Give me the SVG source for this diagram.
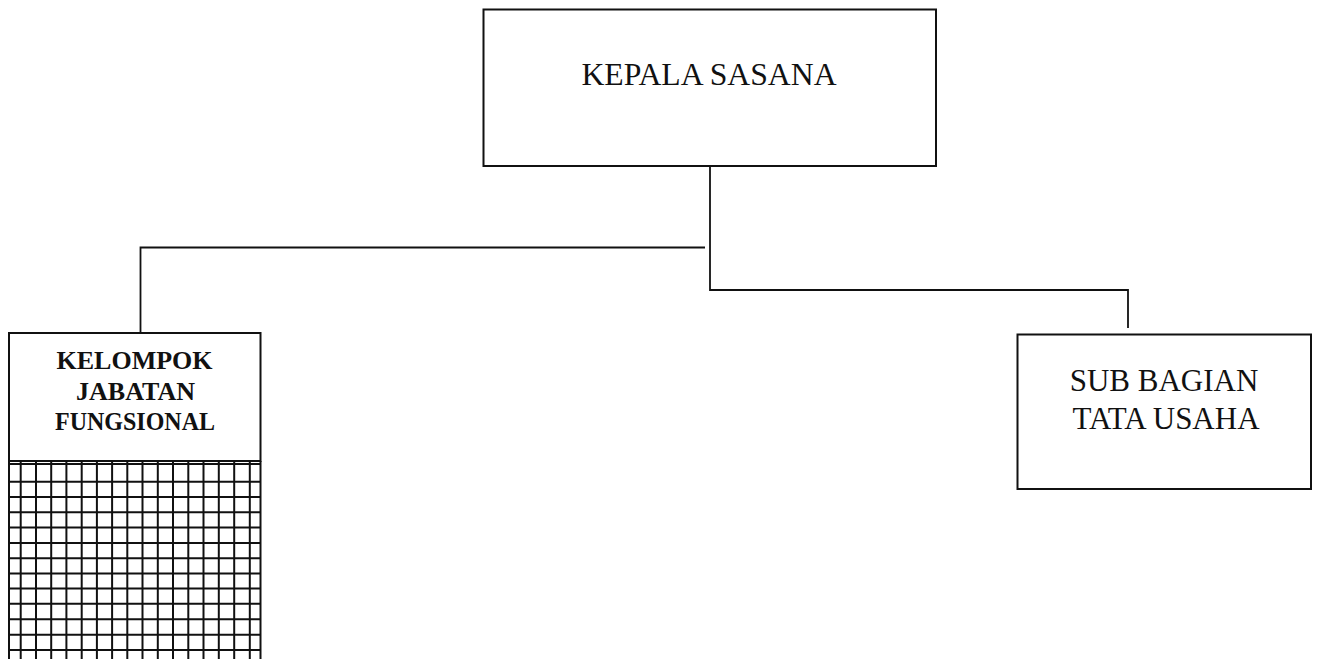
<svg xmlns="http://www.w3.org/2000/svg" width="1318" height="659" viewBox="0 0 1318 659">
<style>
.box{fill:none;stroke:#111;stroke-width:2}
.ln{fill:none;stroke:#111;stroke-width:1.8}
.t{font-family:"Liberation Serif","Times New Roman",serif;fill:#111;text-anchor:middle}
.b{font-weight:bold}
.g{stroke:#111;stroke-width:2}
</style>
<rect width="1318" height="659" fill="#fff"/>
<g id="connectors">
<polyline class="ln" points="710,166 710,290 1128,290 1128,328"/>
<polyline class="ln" points="705,247.5 140.5,247.5 140.5,333"/>
</g>
<g id="kepala">
<rect class="box" x="483.5" y="9.5" width="452.5" height="156.5"/>
<text class="t" x="709" y="85" font-size="31.7">KEPALA SASANA</text>
</g>
<g id="subbagian">
<rect class="box" x="1017.5" y="334.5" width="293.5" height="154.5"/>
<text class="t" x="1164" y="391" font-size="31">SUB BAGIAN</text>
<text class="t" x="1166" y="428.5" font-size="31">TATA USAHA</text>
</g>
<g id="kelompok">
<rect class="box" x="9" y="333" width="251.5" height="128"/>
<text class="t b" x="134.5" y="368.5" font-size="25" textLength="156" lengthAdjust="spacingAndGlyphs">KELOMPOK</text>
<text class="t b" x="135.5" y="399.5" font-size="25" textLength="119" lengthAdjust="spacingAndGlyphs">JABATAN</text>
<text class="t b" x="135" y="429.5" font-size="25" textLength="160" lengthAdjust="spacingAndGlyphs">FUNGSIONAL</text>
<g class="g">
<line x1="9" y1="464" x2="260.5" y2="464"/>
<line x1="9" y1="461" x2="9" y2="659"/>
<line x1="260.5" y1="461" x2="260.5" y2="659"/>
<line x1="20.7" y1="461" x2="20.7" y2="659"/>
<line x1="36" y1="461" x2="36" y2="659"/>
<line x1="51.2" y1="461" x2="51.2" y2="659"/>
<line x1="66.4" y1="461" x2="66.4" y2="659"/>
<line x1="81.7" y1="461" x2="81.7" y2="659"/>
<line x1="96.9" y1="461" x2="96.9" y2="659"/>
<line x1="112.1" y1="461" x2="112.1" y2="659"/>
<line x1="127.3" y1="461" x2="127.3" y2="659"/>
<line x1="142.5" y1="461" x2="142.5" y2="659"/>
<line x1="157.8" y1="461" x2="157.8" y2="659"/>
<line x1="173" y1="461" x2="173" y2="659"/>
<line x1="188.3" y1="461" x2="188.3" y2="659"/>
<line x1="203.5" y1="461" x2="203.5" y2="659"/>
<line x1="218.8" y1="461" x2="218.8" y2="659"/>
<line x1="234.2" y1="461" x2="234.2" y2="659"/>
<line x1="249.8" y1="461" x2="249.8" y2="659"/>
<line x1="9" y1="481.7" x2="260.5" y2="481.7"/>
<line x1="9" y1="497" x2="260.5" y2="497"/>
<line x1="9" y1="512.3" x2="260.5" y2="512.3"/>
<line x1="9" y1="527.6" x2="260.5" y2="527.6"/>
<line x1="9" y1="542.9" x2="260.5" y2="542.9"/>
<line x1="9" y1="558.2" x2="260.5" y2="558.2"/>
<line x1="9" y1="573.5" x2="260.5" y2="573.5"/>
<line x1="9" y1="588.6" x2="260.5" y2="588.6"/>
<line x1="9" y1="603.8" x2="260.5" y2="603.8"/>
<line x1="9" y1="619.3" x2="260.5" y2="619.3"/>
<line x1="9" y1="634.8" x2="260.5" y2="634.8"/>
<line x1="9" y1="650" x2="260.5" y2="650"/>
</g>
</g>
</svg>
